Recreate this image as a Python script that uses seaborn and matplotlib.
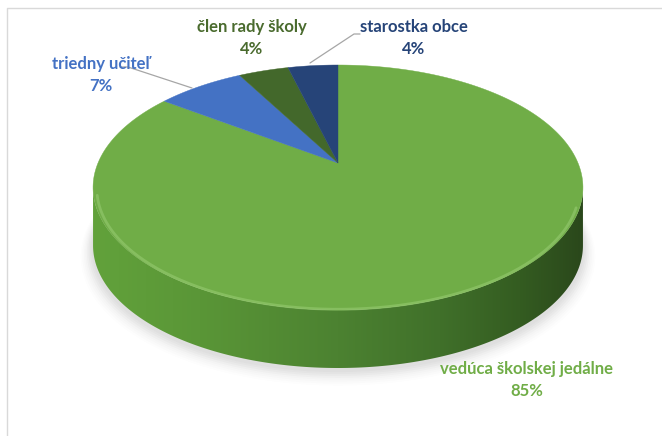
import numpy as np
import matplotlib
matplotlib.use("Agg")
import matplotlib.pyplot as plt
from matplotlib.colors import to_rgb
from matplotlib.patches import Polygon
import seaborn as sns

# Who takes part: share of respondents by role
categories = ["vedúca školskej jedálne", "triedny učiteľ", "člen rady školy", "starostka obce"]
shares = [85, 7, 4, 4]
slice_colors = ["#70ad47", "#4472c4", "#43682b", "#264478"]
label_colors = ["#70ad47", "#4472c4", "#4a6b2e", "#264478"]

sns.set_theme(style="white")
plt.rcParams["font.family"] = ["Lato", "DejaVu Sans"]
palette = sns.color_palette(slice_colors)

W, H = 662, 436
fig = plt.figure(figsize=(W / 100, H / 100), dpi=100)
ax = fig.add_axes([0, 0, 1, 1])

# chart-area frame (left and top edges)
ax.plot([6.5, 6.5, W], [H, 8.5, 8.5], color="#d9d9d9", lw=1.0, zorder=0)

# perspective projection of the unit disc
cx, cy = 338.0, 163.0
A, B, K = 240.0, 117.6, 0.2
DEPTH = 58.0


def proj(theta, r=1.0, drop=0.0):
    u = r * np.sin(theta)
    v = r * np.cos(theta)
    w = 1.0 + K * v
    return cx + A * u / w, cy - B * v / w + drop


# soft shadow under the disc
t_all = np.linspace(0, 2 * np.pi, 400)
for i, a in enumerate(np.linspace(0.05, 0.012, 8)):
    grow = 1.0 + 0.006 * (i + 1)
    sx, sy = proj(t_all, r=grow, drop=DEPTH + 3 + i * 0.8)
    ax.fill(sx, sy, color="#7f7f7f", alpha=a, lw=0, zorder=1)

# wedge angles, clockwise from 12 o'clock
fr = np.array(shares, dtype=float) / np.sum(shares)
edges = np.concatenate([[0.0], np.cumsum(fr)]) * 2 * np.pi

# visible side of the disc between the two silhouette points
t_right = np.arctan2(np.sqrt(1 - K ** 2), -K)
t_left = 2 * np.pi - t_right
ts = np.linspace(t_right, t_left, 300)
tx, ty = proj(ts)
side_xy = np.column_stack([np.r_[tx, tx[::-1]], np.r_[ty, ty[::-1] + DEPTH]])
side_patch = Polygon(side_xy, closed=True, fc="none", ec="none")
ax.add_patch(side_patch)

# horizontal light-to-dark shading of the side wall
x0, x1 = side_xy[:, 0].min() - 2, side_xy[:, 0].max() + 2
y0, y1 = side_xy[:, 1].min() - 2, side_xy[:, 1].max() + 2
stops_x = [x0, 200, 338, 440, 520, x1]
stops_c = np.array([to_rgb(c) for c in
                    ["#62a23b", "#5a9637", "#4c8231", "#40702a", "#345c21", "#2a471b"]])
gx = np.linspace(x0, x1, 600)
grad = np.stack([np.interp(gx, stops_x, stops_c[:, k]) for k in range(3)], axis=-1)
img = ax.imshow(grad[np.newaxis, :, :], extent=[x0, x1, y1, y0], aspect="auto",
                interpolation="bilinear", zorder=2)
img.set_clip_path(side_patch)

# top faces of the wedges
for i in range(len(shares)):
    tt = np.linspace(edges[i], edges[i + 1], max(int(300 * fr[i]), 8))
    px, py = proj(tt)
    ax.fill(np.r_[cx, px], np.r_[cy, py], color=palette[i], lw=0.3,
            ec=palette[i], zorder=3)

# bevel highlight along the front rim
tr = np.linspace(t_right + 0.15, t_left - 0.05, 200)
hx, hy = proj(tr, r=0.985)
ax.plot(hx, hy + 2, color="#9ccf78", lw=2.0, alpha=0.5, zorder=4,
        solid_capstyle="round")

# data labels
lab_pos = [(527, 380), (101, 75), (252, 38), (414, 38)]
for name, val, (lx, ly), col in zip(categories, shares, lab_pos, label_colors):
    ax.text(lx, ly, f"{name}\n{val}%", ha="center", va="center",
            color=col, fontsize=12, fontweight="bold", linespacing=1.4,
            zorder=6)

# leader lines
ax.plot([120, 128, 192], [67, 67, 88], color="#a6a6a6", lw=0.9, zorder=5)
ax.plot([360, 354, 310], [34, 34, 63], color="#a6a6a6", lw=0.9, zorder=5)

ax.set_xlim(0, W)
ax.set_ylim(H, 0)
ax.axis("off")

fig.savefig("out.png", dpi=100)
